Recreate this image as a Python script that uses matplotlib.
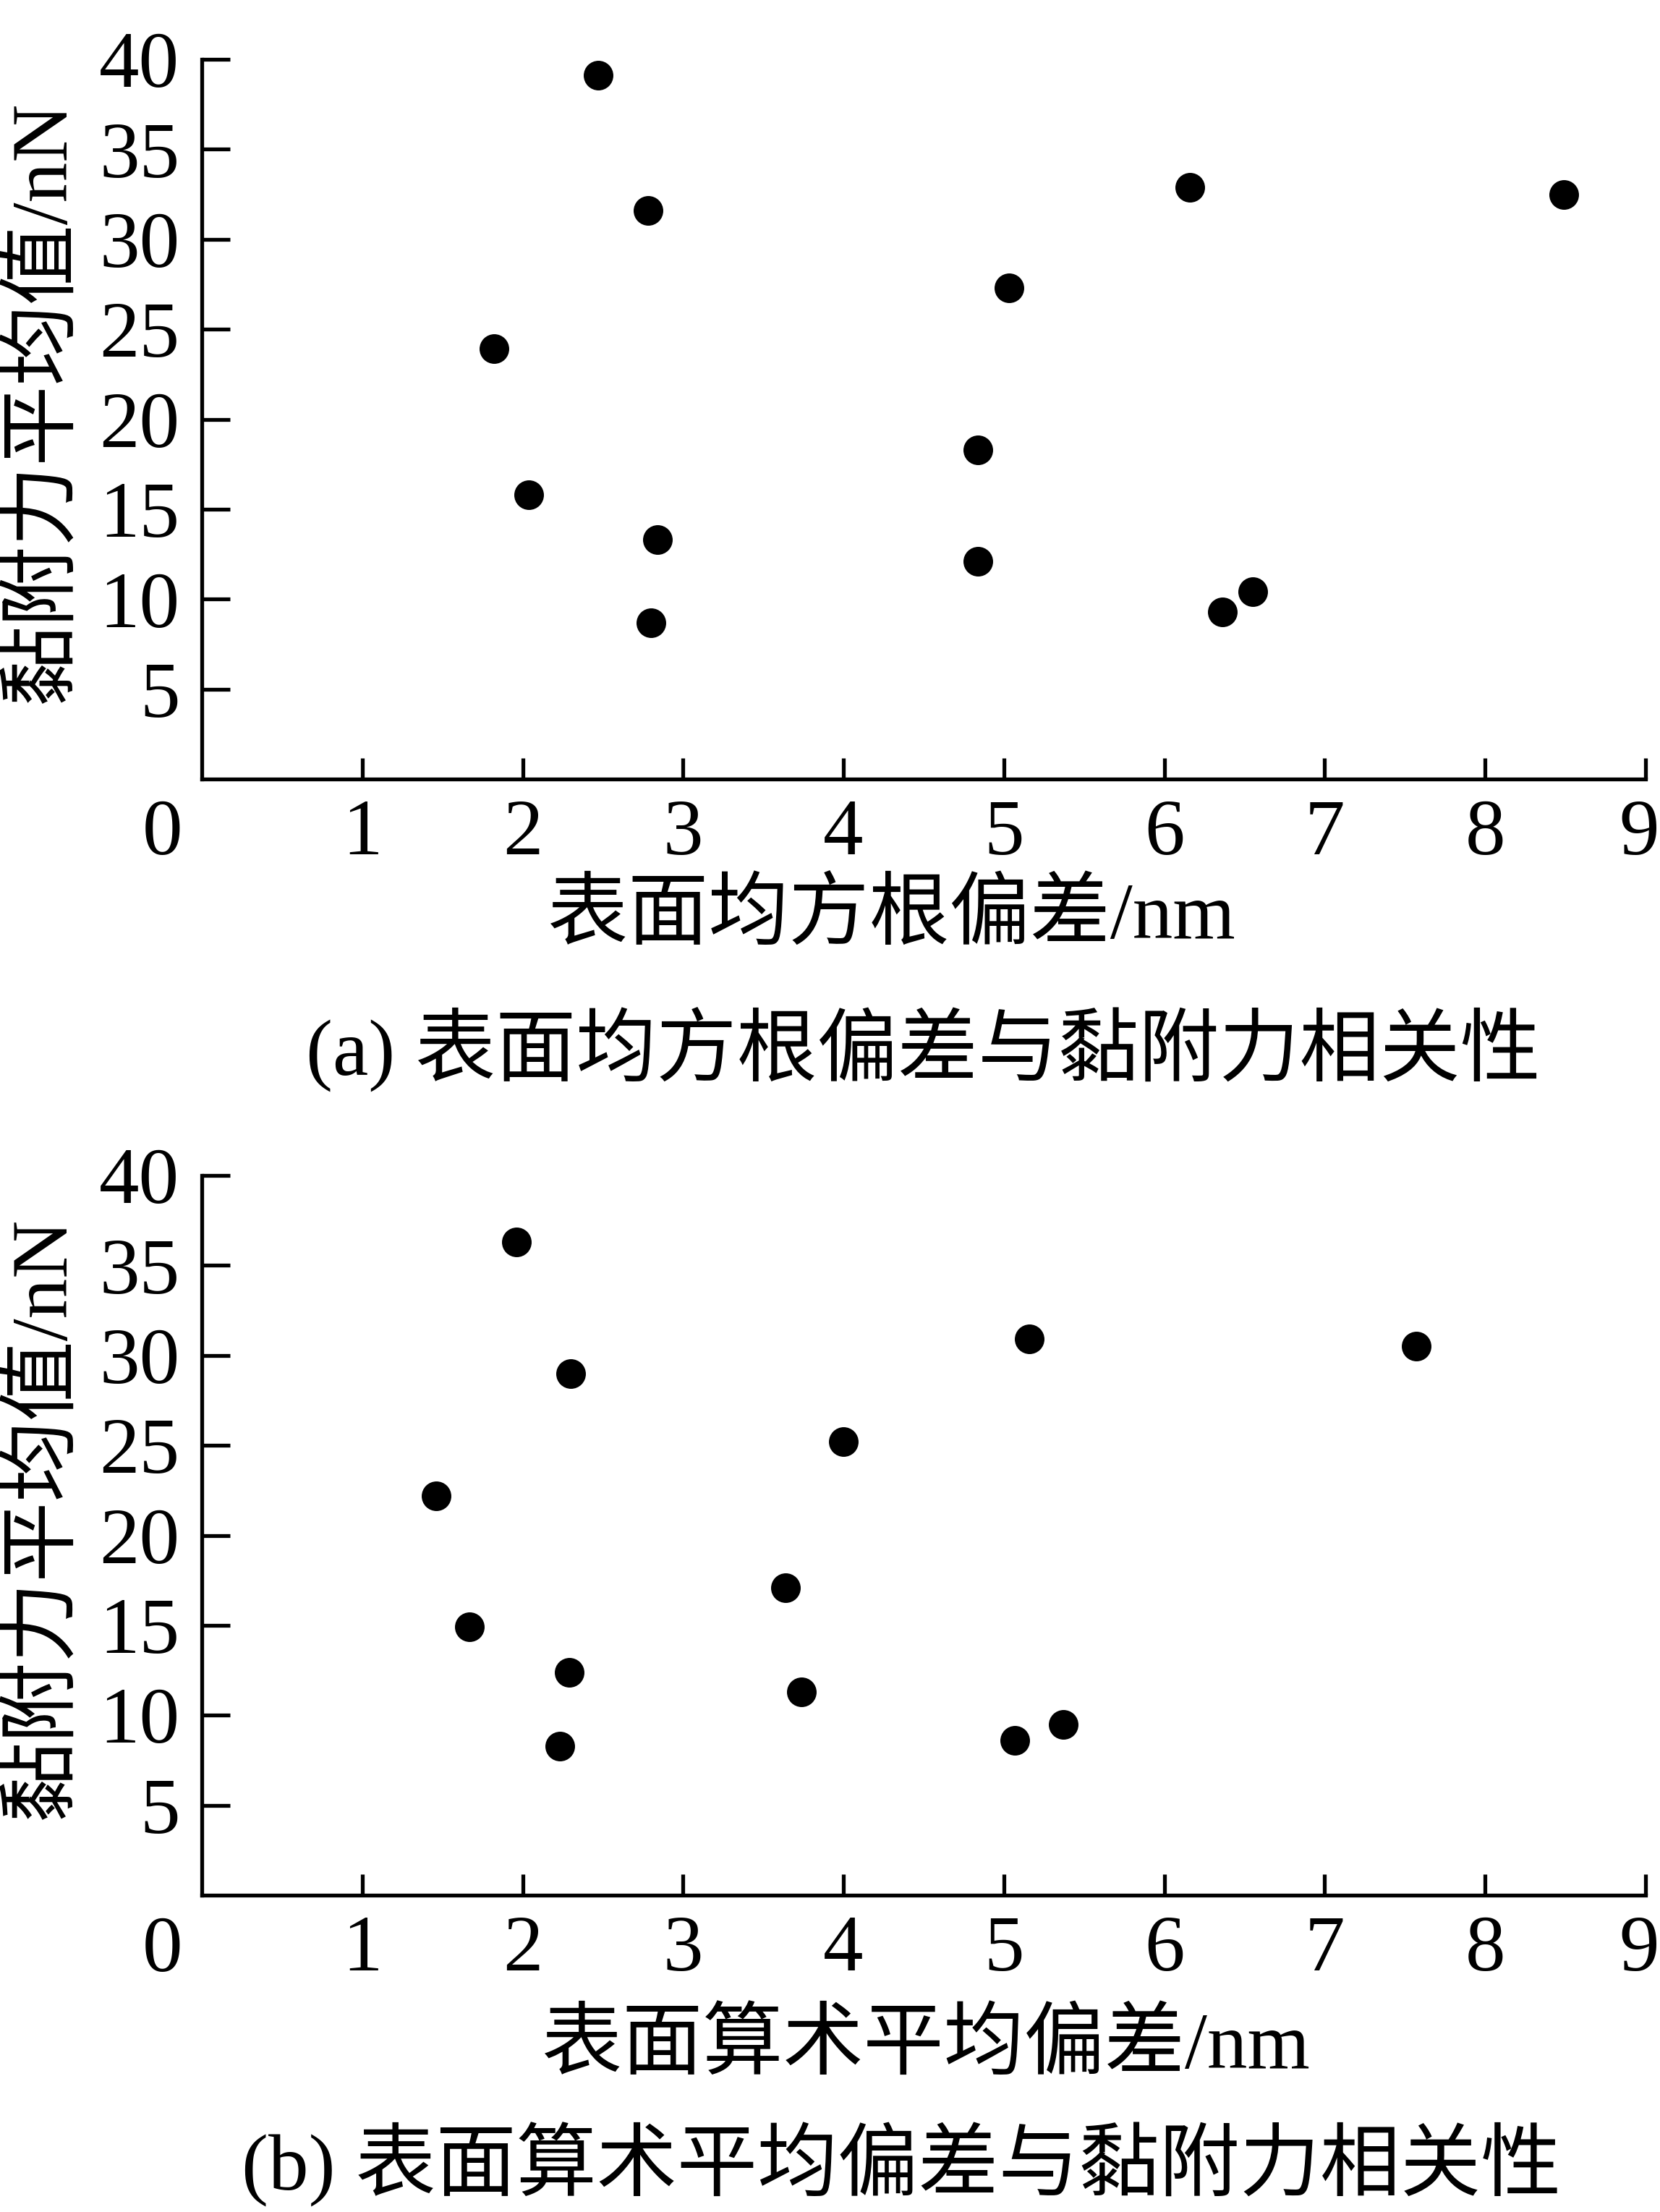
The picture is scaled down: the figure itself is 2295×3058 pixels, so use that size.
import matplotlib
matplotlib.use('Agg')
import matplotlib.pyplot as plt
from matplotlib.transforms import offset_copy, ScaledTranslation

# ---------------- data ----------------
# (a) surface RMS deviation (nm) vs mean adhesion force (nN)
rms_x = [2.47, 2.78, 1.82, 2.04, 2.84, 2.80, 6.16, 8.49, 5.03, 4.84, 4.84, 6.55, 6.36]
rms_y = [39.1, 31.6, 23.9, 15.8, 13.3, 8.7, 32.9, 32.5, 27.3, 18.3, 12.1, 10.4, 9.3]
# (b) surface arithmetic mean deviation (nm) vs mean adhesion force (nN)
ra_x = [1.96, 2.30, 1.46, 1.67, 2.29, 2.23, 3.64, 3.74, 4.00, 5.16, 7.57, 5.07, 5.37]
ra_y = [36.3, 29.0, 22.2, 14.9, 12.4, 8.3, 17.1, 11.3, 25.2, 30.9, 30.5, 8.6, 9.5]

x_ticks = [1, 2, 3, 4, 5, 6, 7, 8, 9]
y_ticks = [5, 10, 15, 20, 25, 30, 35, 40]

ylabel = "黏附力平均值/nN"
xlabel_a = "表面均方根偏差/nm"
xlabel_b = "表面算术平均偏差/nm"
caption_a = "(a) 表面均方根偏差与黏附力相关性"
caption_b = "(b) 表面算术平均偏差与黏附力相关性"

# ---------------- figure ----------------
W, H = 2295, 3058
DPI = 100
plt.rcParams['font.family'] = ['Liberation Serif', 'Noto Sans CJK SC']
fig = plt.figure(figsize=(W / DPI, H / DPI), dpi=DPI)

FS = 80
LW = 3.8


def rect(left, right, top, bottom):
    return [left / W, 1 - bottom / H, (right - left) / W, (bottom - top) / H]


def panel(r, xs, ys):
    ax = fig.add_axes(r)
    ax.plot(xs, ys, 'o', color='black', ms=29.5, mew=0, clip_on=False)
    ax.set_xlim(0, 9)
    ax.set_ylim(0, 40)
    ax.set_xticks(x_ticks)
    ax.set_yticks(y_ticks)
    ax.set_xticklabels([str(v) for v in x_ticks])
    ax.set_yticklabels([str(v) for v in y_ticks])
    for s in ('top', 'right'):
        ax.spines[s].set_visible(False)
    for s in ('left', 'bottom'):
        ax.spines[s].set_linewidth(LW)
    ax.tick_params(axis='y', direction='in', length=28, width=LW, pad=22, labelsize=FS)
    ax.tick_params(axis='x', direction='in', length=21, width=LW, pad=20, labelsize=FS)
    # keep the last x tick label inside the canvas, as in the reference
    last = ax.get_xticklabels()[-1]
    last.set_transform(last.get_transform() + ScaledTranslation(-9 / DPI, 0, fig.dpi_scale_trans))
    tr = offset_copy(ax.transData, fig=fig, x=-54, y=-28, units='dots')
    ax.text(0, 0, '0', transform=tr, ha='center', va='top', fontsize=FS)
    return ax


ax1 = panel(rect(279, 2275, 82, 1077), rms_x, rms_y)
ax2 = panel(rect(279, 2275, 1625, 2620), ra_x, ra_y)


def ftext(x, y, s, **kw):
    fig.text(x / W, 1 - y / H, s, ha='center', va='center', fontsize=FS, **kw)


ftext(60, 555, ylabel, rotation=90)
ftext(60, 2098, ylabel, rotation=90)
ftext(1232, 1268, xlabel_a)
ftext(1276, 1450, caption_a)
ftext(1280, 2831, xlabel_b)
ftext(1246, 2992, caption_b)

fig.savefig('out.png', dpi=DPI, facecolor='white')
